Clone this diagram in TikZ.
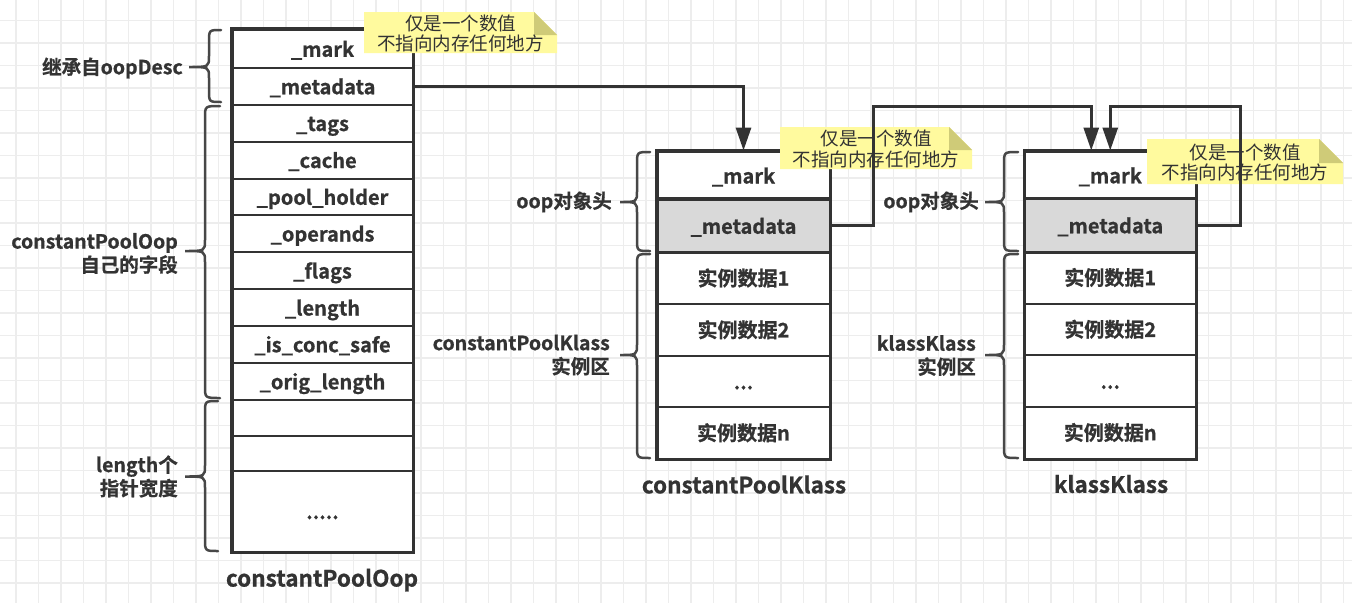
\documentclass[tikz,border=0pt]{standalone}
\usepackage{fontspec}
\setmainfont{Noto Sans CJK SC}[BoldFont={Noto Sans CJK SC Bold},BoldFeatures={FakeBold=0.8}]
\usetikzlibrary{arrows.meta}
\definecolor{ink}{HTML}{333333}
\definecolor{gridc}{HTML}{EDEDED}
\definecolor{metagray}{HTML}{D9D9D9}
\definecolor{notefill}{HTML}{FFFA9E}
\definecolor{foldfill}{HTML}{CFCB78}
\newcommand\mybrace[6]{% xe xs xt y1 y2 ym
  \draw[bracestyle] (#1,#4) .. controls (#2,#4) .. (#2,#4+12) -- (#2,#6-11)
    .. controls (#2,#6) .. (#3,#6) .. controls (#2,#6) .. (#2,#6+11)
    -- (#2,#5-12) .. controls (#2,#5) .. (#1,#5);}
\begin{document}
\begin{tikzpicture}[x=1pt,y=-1pt,
  gridline/.style={draw=gridc,line width=1.3pt},
  cell/.style={draw=ink,line width=2pt,fill=white,inner sep=0pt,text=ink,
    font=\bfseries\fontsize{20}{24}\selectfont},
  lat/.style={text height=18pt,text depth=2pt},
  lcell/.style={cell,lat,minimum width=180pt},
  mcell/.style={cell,minimum width=172pt},
  rcell/.style={cell,minimum width=170.5pt},
  outer/.style={draw=ink,line width=3pt},
  conn/.style={draw=ink,line width=3pt,-{Triangle[length=23pt,width=15pt]}},
  bracestyle/.style={draw=ink!90,line width=2.5pt,line cap=round},
  lab/.style={anchor=east,align=right,text=ink,inner sep=0pt,
    font=\bfseries\fontsize{19.5}{23.5}\selectfont},
  capt/.style={text=ink,inner sep=0pt,font=\bfseries\fontsize{22.5}{26}\selectfont},
  notetext/.style={align=center,text=ink,inner sep=0pt,
    font=\fontsize{18.5}{20.5}\selectfont}]
\useasboundingbox (0,0) rectangle (1352,603);
\fill[white] (0,0) rectangle (1352,603);
\foreach \k in {0,...,59} \draw[gridline] (16+22.5*\k,0) -- (16+22.5*\k,603);
\foreach \k in {0,...,26} \draw[gridline] (0,20.5+22.5*\k) -- (1352,20.5+22.5*\k);

% braces
\mybrace{221}{209}{189}{30}{102}{67}
\mybrace{220}{205}{185}{106}{398}{251}
\mybrace{218}{205}{185}{401}{551}{476.5}
\mybrace{650}{637}{620}{152}{251}{202}
\mybrace{650}{637}{620}{254}{458}{355}
\mybrace{1018}{1004}{985}{152}{251}{202}
\mybrace{1018}{1004}{985}{254}{458}{355}

% left box
\node[lcell,minimum height=38.5pt] (l1) at (322.5,48.75) {\_mark};
\node[lcell,minimum height=36.5pt] (l2) at (322.5,86.25) {\_metadata};
\node[lcell,minimum height=37pt] (l3) at (322.5,123) {\_tags};
\node[lcell,minimum height=37pt] (l4) at (322.5,160) {\_cache};
\node[lcell,minimum height=36.5pt] (l5) at (322.5,196.75) {\_pool\_holder};
\node[lcell,minimum height=37pt] (l6) at (322.5,233.5) {\_operands};
\node[lcell,minimum height=37pt] (l7) at (322.5,270.5) {\_flags};
\node[lcell,minimum height=37pt] (l8) at (322.5,307.5) {\_length};
\node[lcell,minimum height=36.5pt] (l9) at (322.5,344.25) {\_is\_conc\_safe};
\node[lcell,minimum height=37.5pt] (l10) at (322.5,381.25) {\_orig\_length};
\node[lcell,minimum height=36pt] (l11) at (322.5,418) {};
\node[lcell,minimum height=34.5pt] (l12) at (322.5,453.25) {};
\node[lcell,minimum height=81pt] (l13) at (322.5,511) {.....};
\draw[outer] (l1.north west) rectangle (l13.south east);

% middle box
\node[mcell,lat,minimum height=48pt] (m1) at (743.5,175.5) {\_mark};
\node[mcell,lat,minimum height=52.5pt,fill=metagray] (m2) at (743.5,225.75) {\_metadata};
\node[mcell,minimum height=52pt] (m3) at (743.5,278) {实例数据1};
\node[mcell,minimum height=51.5pt] (m4) at (743.5,329.75) {实例数据2};
\node[mcell,lat,minimum height=51.5pt] (m5) at (743.5,381.25) {...};
\node[mcell,minimum height=51.5pt] (m6) at (743.5,432.75) {实例数据n};
\draw[outer] (m1.north west) rectangle (m6.south east);
\draw[outer,line width=2.5pt] (m2.north west) -- (m2.north east);
\draw[outer,line width=2.5pt] (m2.south west) -- (m2.south east);

% right box
\node[rcell,lat,minimum height=47.5pt] (r1) at (1110.25,175.25) {\_mark};
\node[rcell,lat,minimum height=52.5pt,fill=metagray] (r2) at (1110.25,225.25) {\_metadata};
\node[rcell,minimum height=52pt] (r3) at (1110.25,277.5) {实例数据1};
\node[rcell,minimum height=51.5pt] (r4) at (1110.25,329.25) {实例数据2};
\node[rcell,lat,minimum height=51.5pt] (r5) at (1110.25,380.75) {...};
\node[rcell,minimum height=52pt] (r6) at (1110.25,432.5) {实例数据n};
\draw[outer] (r1.north west) rectangle (r6.south east);
\draw[outer,line width=2.5pt] (r2.north west) -- (r2.north east);
\draw[outer,line width=2.5pt] (r2.south west) -- (r2.south east);

% notes
\fill[notefill] (364,12) -- (534,12) -- (557,35) -- (557,53) -- (364,53) -- cycle;
\fill[foldfill] (534,12) -- (534,35) -- (557,35) -- cycle;
\node[notetext] (n1) at (460.5,33.3) {仅是一个数值\\不指向内存任何地方};
\fill[notefill] (780,127) -- (949,127) -- (972,150) -- (972,169) -- (780,169) -- cycle;
\fill[foldfill] (949,127) -- (949,150) -- (972,150) -- cycle;
\node[notetext] (n2) at (876,149) {仅是一个数值\\不指向内存任何地方};
\fill[notefill] (1147,139) -- (1319,139) -- (1343,163) -- (1343,184) -- (1147,184) -- cycle;
\fill[foldfill] (1319,139) -- (1319,163) -- (1343,163) -- cycle;
\node[notetext] (n3) at (1245,162.3) {仅是一个数值\\不指向内存任何地方};

% connectors
\coordinate (j1) at (873,106.5);
\coordinate (j2) at (1240,106.5);
\draw[conn] (l2.east) -| (m1.north);
\draw[conn] (m2.east) -| (j1) -| ([xshift=-19pt]r1.north);
\draw[conn] (r2.east) -| (j2) -| (r1.north);

% labels
\node[lab] (t1) at (183,68) {继承自oopDesc};
\node[lab] (t2) at (178,253.5) {constantPoolOop\\自己的字段};
\node[lab] (t3) at (178,476.5) {length个\\指针宽度};
\node[lab] (t4) at (612,202) {oop对象头};
\node[lab] (t5) at (610,355) {constantPoolKlass\\实例区};
\node[lab] (t6) at (979,202) {oop对象头};
\node[lab] (t7) at (976,355.5) {klassKlass\\实例区};

% captions
\node[capt] (c1) at (322,580) {constantPoolOop};
\node[capt] (c2) at (744,484.5) {constantPoolKlass};
\node[capt] (c3) at (1111,484) {klassKlass};
\end{tikzpicture}
\end{document}
